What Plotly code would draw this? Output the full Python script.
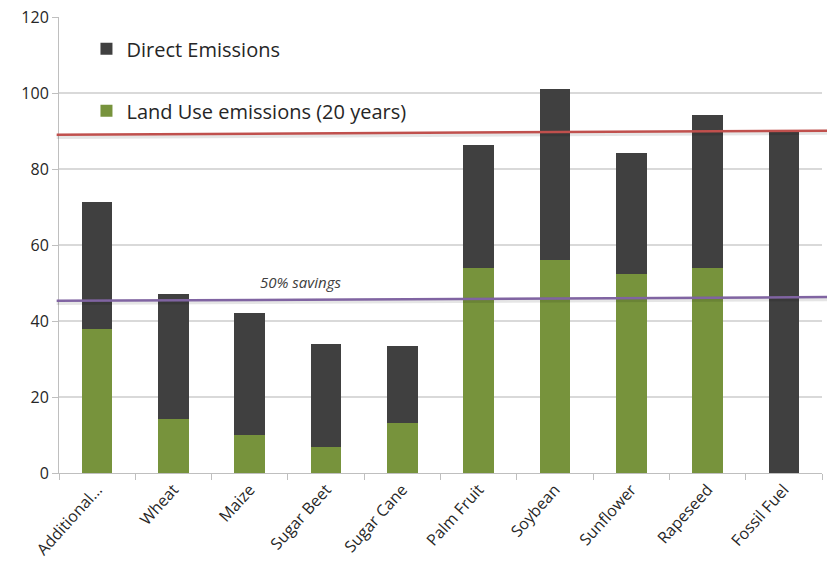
import plotly.graph_objects as go

# Emissions per feedstock (gCO2e/MJ)
categories = ["Additional...", "Wheat", "Maize", "Sugar Beet", "Sugar Cane",
              "Palm Fruit", "Soybean", "Sunflower", "Rapeseed", "Fossil Fuel"]
land_use = [37.9, 14.2, 10.0, 6.8, 13.1, 54.0, 56.0, 52.3, 54.0, 0.0]
direct = [33.4, 33.0, 32.2, 27.2, 20.2, 32.3, 45.0, 31.9, 40.3, 89.7]

# Reference lines (value at left edge, value at right edge)
fossil_ref = [89.0, 90.1]
savings_ref = [45.3, 46.3]
savings_label = "50% savings"

y_ticks = [0, 20, 40, 60, 80, 100, 120]

FONT = "Open Sans"
GREEN = "#77933c"
DARK = "#404040"

fig = go.Figure()
fig.add_trace(go.Bar(
    x=categories, y=land_use, name="Land Use emissions (20 years)",
    marker=dict(color=GREEN, line=dict(width=0)),
    legendgroup="land", legendrank=2,
))
fig.add_trace(go.Bar(
    x=categories, y=direct, name="Direct Emissions",
    marker=dict(color=DARK, line=dict(width=0)),
    legendgroup="direct", legendrank=1,
))

# Horizontal reference lines with a soft shadow
for vals, color in [(fossil_ref, "#c0504d"), (savings_ref, "#8064a2")]:
    fig.add_shape(type="line", xref="paper", yref="y",
                  x0=-0.003, x1=1.01, y0=vals[0] - 0.45, y1=vals[1] - 0.45,
                  line=dict(color="rgba(0,0,0,0.10)", width=5), layer="above")
    fig.add_shape(type="line", xref="paper", yref="y",
                  x0=-0.003, x1=1.01, y0=vals[0], y1=vals[1],
                  line=dict(color=color, width=2.5), layer="above")

fig.add_annotation(text=savings_label, xref="paper", yref="y",
                   x=0.317, y=savings_ref[0] + 5.0, showarrow=False,
                   xanchor="center", yanchor="middle",
                   font=dict(family=FONT, size=15, color="#404040",
                             style="italic"))

fig.update_layout(
    width=827, height=583,
    margin=dict(l=59, r=5, t=17, b=110),
    paper_bgcolor="white", plot_bgcolor="white",
    barmode="stack", bargap=0.6,
    font=dict(family=FONT, color="#262626"),
    legend=dict(
        x=0.036, y=0.973, xanchor="left", yanchor="top",
        traceorder="grouped", tracegroupgap=33,
        font=dict(family=FONT, size=20, color="#262626"),
        bgcolor="rgba(0,0,0,0)", itemsizing="constant",
    ),
    xaxis=dict(
        type="category", tickson="boundaries",
        ticks="outside", ticklen=6, tickcolor="#bfbfbf",
        showline=True, linecolor="#bfbfbf", linewidth=1,
        showgrid=False, tickangle=-48,
        tickfont=dict(family=FONT, size=16, color="#262626"),
    ),
    yaxis=dict(
        range=[0, 120], tickvals=y_ticks,
        showgrid=True, gridcolor="#d9d9d9", gridwidth=1.5,
        ticks="outside", ticklen=6, tickcolor="#bfbfbf",
        showline=True, linecolor="#bfbfbf", linewidth=1,
        zeroline=False,
        tickfont=dict(family=FONT, size=16, color="#262626"),
    ),
)

fig.write_html("out.html")
